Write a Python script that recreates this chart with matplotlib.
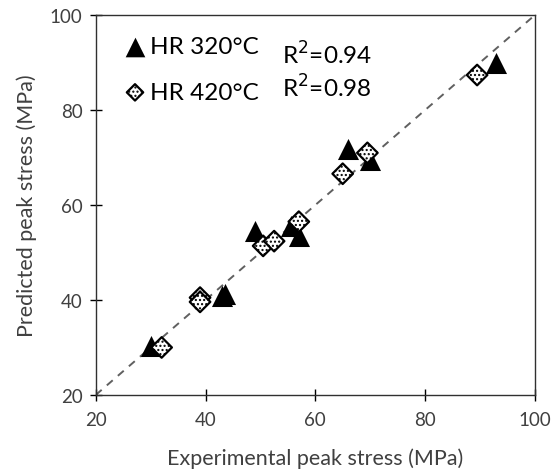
import matplotlib
matplotlib.use("Agg")
import matplotlib.pyplot as plt

plt.rcParams["font.family"] = ["Lato", "DejaVu Sans"]
plt.rcParams["hatch.linewidth"] = 1.0

# experimental vs predicted peak stress (MPa)
hr320_exp = [30, 43, 43.5, 49, 55.5, 57, 66, 70, 93]
hr320_pred = [30.3, 40.8, 41.2, 54.5, 55.5, 53.5, 71.8, 69.5, 90]
hr420_exp = [32, 39, 39, 50.5, 52.5, 57, 65, 69.5, 89.5]
hr420_pred = [30, 40.5, 39.6, 51.4, 52.4, 56.5, 66.6, 71, 87.4]
r2_320 = 0.94
r2_420 = 0.98
ticks = [20, 40, 60, 80, 100]

TXT = "#404040"

fig = plt.figure(figsize=(5.57, 4.77), dpi=100)
ax = fig.add_axes([0.172, 0.170, 0.788, 0.796])

ax.plot([20, 100], [20, 100], ls=(0, (4, 3.5)), color="#606060", lw=1.4, zorder=1)

h1 = ax.scatter(hr320_exp, hr320_pred, marker="^", s=230, color="black",
                linewidths=0, zorder=3, label="HR 320°C")
h2 = ax.scatter(hr420_exp, hr420_pred, marker="D", s=110, facecolor="white",
                edgecolor="black", linewidths=1.6, hatch="....", zorder=4,
                label="HR 420°C")

ax.set_xlim(20, 100)
ax.set_ylim(20, 100)
ax.set_xticks(ticks)
ax.set_yticks(ticks)
ax.tick_params(direction="inout", length=9, width=1, labelsize=13.5,
               labelcolor=TXT)
ax.tick_params(axis="x", pad=7)
ax.tick_params(axis="y", pad=5)
for sp in ax.spines.values():
    sp.set_linewidth(1.0)
    sp.set_color("#303030")

ax.set_xlabel("Experimental peak stress (MPa)", fontsize=15.5, color=TXT, labelpad=14)
ax.set_ylabel("Predicted peak stress (MPa)", fontsize=15.5, color=TXT, labelpad=9)

leg = ax.legend(handles=[h1, h2], loc="upper left", frameon=False, fontsize=17.5,
                handletextpad=0.0, borderaxespad=0.0, labelspacing=1.0,
                handlelength=1.2, scatterpoints=1, borderpad=0.2,
                bbox_to_anchor=(0.045, 0.957))
leg.legend_handles[0].set_sizes([200])
leg.legend_handles[1].set_sizes([70])

ax.text(0.425, 0.897, f"R$^2$={r2_320:.2f}", transform=ax.transAxes,
        fontsize=17.5, color="black", va="center")
ax.text(0.425, 0.812, f"R$^2$={r2_420:.2f}", transform=ax.transAxes,
        fontsize=17.5, color="black", va="center")

fig.savefig("out.png", dpi=100)
